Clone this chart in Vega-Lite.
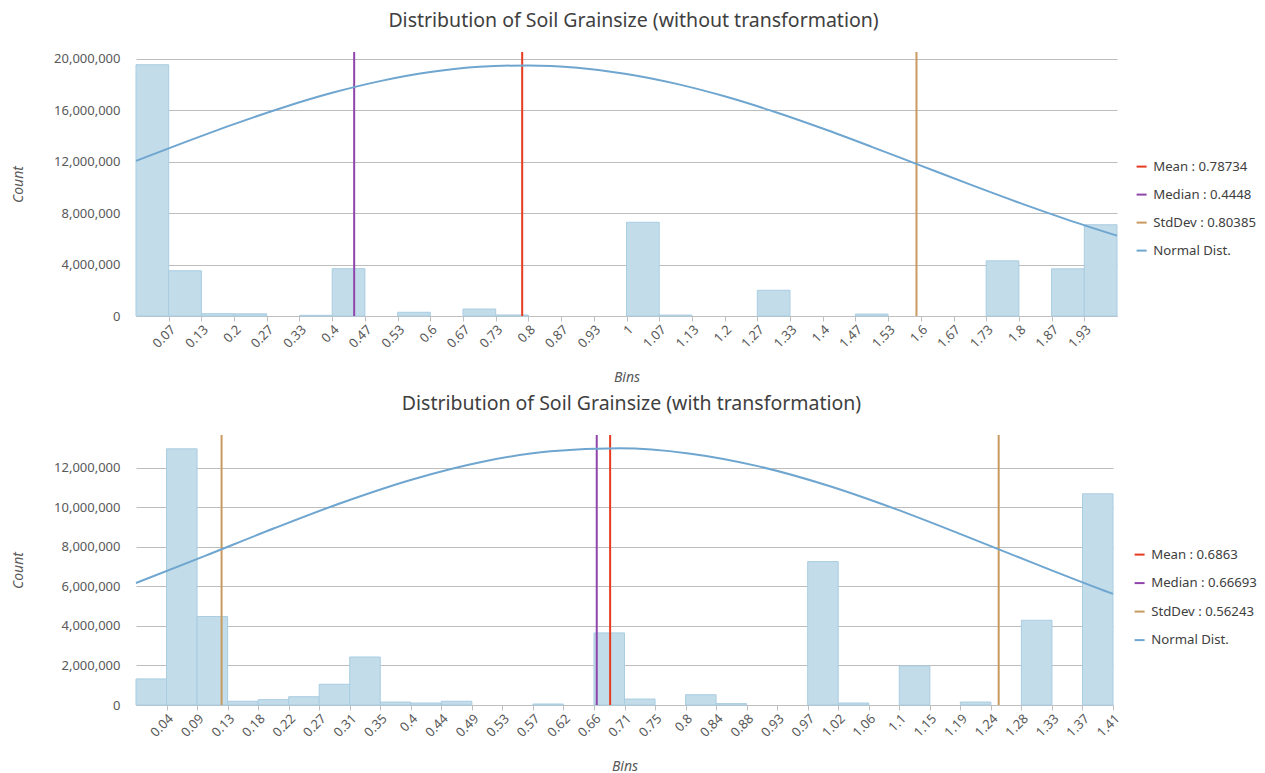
{
  "$schema": "https://vega.github.io/schema/vega-lite/v6.json",
  "background": "white",
  "padding": {"top": 10, "left": 11, "right": 5, "bottom": 0},
  "config": {
    "font": "Noto Sans",
    "view": {"stroke": null},
    "axis": {"labelColor": "#595959", "labelFontSize": 13, "titleColor": "#595959", "titleFontStyle": "italic", "titleFontWeight": "normal", "titleFontSize": 14},
    "axisX": {"labelOverlap": false, "tickCount": 60},
    "title": {"fontSize": 19.5, "fontWeight": "normal", "color": "#404040"},
    "legend": {"labelColor": "#404040", "labelFontSize": 13.2, "labelFont": "Noto Sans", "symbolType": "stroke", "symbolSize": 100, "symbolStrokeWidth": 2, "rowPadding": 14, "labelOffset": 5}
  },
  "datasets": {
    "bars_top": [
      {"bin_start": 0, "bin_end": 0.0666667, "count": 19550000},
      {"bin_start": 0.0666667, "bin_end": 0.1333333, "count": 3520000},
      {"bin_start": 0.1333333, "bin_end": 0.2, "count": 180000},
      {"bin_start": 0.2, "bin_end": 0.2666667, "count": 170000},
      {"bin_start": 0.3333333, "bin_end": 0.4, "count": 50000},
      {"bin_start": 0.4, "bin_end": 0.4666667, "count": 3680000},
      {"bin_start": 0.5333333, "bin_end": 0.6, "count": 290000},
      {"bin_start": 0.6666667, "bin_end": 0.7333333, "count": 540000},
      {"bin_start": 0.7333333, "bin_end": 0.8, "count": 80000},
      {"bin_start": 1, "bin_end": 1.0666667, "count": 7290000},
      {"bin_start": 1.0666667, "bin_end": 1.1333333, "count": 70000},
      {"bin_start": 1.2666667, "bin_end": 1.3333333, "count": 2000000},
      {"bin_start": 1.4666667, "bin_end": 1.5333333, "count": 150000},
      {"bin_start": 1.7333333, "bin_end": 1.8, "count": 4290000},
      {"bin_start": 1.8666667, "bin_end": 1.9333333, "count": 3670000},
      {"bin_start": 1.9333333, "bin_end": 2, "count": 7100000}
    ],
    "stats_top": [
      {"label": "Mean : 0.78734", "value": 0.78734},
      {"label": "Median : 0.4448", "value": 0.4448},
      {"label": "StdDev : 0.80385", "value": 1.59119}
    ],
    "curve_top": [
      {"x": 0, "density": 12071000}, {"x": 0.1, "density": 13529000}, {"x": 0.2, "density": 14932000},
      {"x": 0.3, "density": 16227000}, {"x": 0.4, "density": 17363000}, {"x": 0.5, "density": 18293000},
      {"x": 0.6, "density": 18978000}, {"x": 0.7, "density": 19385000}, {"x": 0.8, "density": 19498000},
      {"x": 0.9, "density": 19309000}, {"x": 1.0, "density": 18829000}, {"x": 1.1, "density": 18079000},
      {"x": 1.2, "density": 17093000}, {"x": 1.3, "density": 15912000}, {"x": 1.4, "density": 14585000},
      {"x": 1.5, "density": 13163000}, {"x": 1.6, "density": 11699000}, {"x": 1.7, "density": 10236000},
      {"x": 1.8, "density": 8819000}, {"x": 1.9, "density": 7482000}, {"x": 2.0, "density": 6250000}
    ],
    "bars_bottom": [
      {"bin_start": 0, "bin_end": 0.0441942, "count": 1320000},
      {"bin_start": 0.0441942, "bin_end": 0.0883883, "count": 12970000},
      {"bin_start": 0.0883883, "bin_end": 0.1325825, "count": 4480000},
      {"bin_start": 0.1325825, "bin_end": 0.1767767, "count": 190000},
      {"bin_start": 0.1767767, "bin_end": 0.2209709, "count": 270000},
      {"bin_start": 0.2209709, "bin_end": 0.265165, "count": 420000},
      {"bin_start": 0.265165, "bin_end": 0.3093592, "count": 1050000},
      {"bin_start": 0.3093592, "bin_end": 0.3535534, "count": 2430000},
      {"bin_start": 0.3535534, "bin_end": 0.3977476, "count": 150000},
      {"bin_start": 0.3977476, "bin_end": 0.4419417, "count": 100000},
      {"bin_start": 0.4419417, "bin_end": 0.4861359, "count": 190000},
      {"bin_start": 0.5745243, "bin_end": 0.6187184, "count": 50000},
      {"bin_start": 0.6629126, "bin_end": 0.7071068, "count": 3650000},
      {"bin_start": 0.7071068, "bin_end": 0.751301, "count": 300000},
      {"bin_start": 0.7954951, "bin_end": 0.8396893, "count": 520000},
      {"bin_start": 0.8396893, "bin_end": 0.8838835, "count": 70000},
      {"bin_start": 0.9722718, "bin_end": 1.016466, "count": 7260000},
      {"bin_start": 1.016466, "bin_end": 1.0606602, "count": 100000},
      {"bin_start": 1.1048543, "bin_end": 1.1490485, "count": 1980000},
      {"bin_start": 1.1932427, "bin_end": 1.2374369, "count": 150000},
      {"bin_start": 1.2816252, "bin_end": 1.3258252, "count": 4290000},
      {"bin_start": 1.3700194, "bin_end": 1.4142136, "count": 10690000}
    ],
    "stats_bottom": [
      {"label": "Mean : 0.6863", "value": 0.6863},
      {"label": "Median : 0.66693", "value": 0.66693},
      {"label": "StdDev : 0.56243", "value": 0.12387},
      {"label": "StdDev : 0.56243", "value": 1.24873}
    ],
    "curve_bottom": [
      {"x": 0, "density": 6175000}, {"x": 0.1, "density": 7551000}, {"x": 0.2, "density": 8946000},
      {"x": 0.3, "density": 10268000}, {"x": 0.4, "density": 11420000}, {"x": 0.5, "density": 12306000},
      {"x": 0.6, "density": 12848000}, {"x": 0.7, "density": 12996000}, {"x": 0.8, "density": 12737000},
      {"x": 0.9, "density": 12095000}, {"x": 1.0, "density": 11127000}, {"x": 1.1, "density": 9919000},
      {"x": 1.2, "density": 8566000}, {"x": 1.3, "density": 7168000}, {"x": 1.4, "density": 5811000},
      {"x": 1.4142136, "density": 5626000}
    ]
  },
  "spacing": 8,
  "resolve": {"scale": {"color": "independent", "x": "independent", "y": "independent"}, "legend": {"color": "independent"}},
  "vconcat": [
    {
      "width": 981,
      "height": 264,
      "title": {"text": "Distribution of Soil Grainsize (without transformation)", "dx": 7, "offset": 20},
      "layer": [
        {
          "data": {"name": "bars_top"},
          "mark": {"type": "rect", "fill": "#c2dcea", "stroke": "#a9cde1", "strokeWidth": 1},
          "encoding": {
            "x": {"field": "bin_start", "type": "quantitative", "scale": {"domain": [0, 2], "nice": false, "zero": false},
              "axis": {"title": "Bins", "values": [0.0666667, 0.1333333, 0.2, 0.2666667, 0.3333333, 0.4, 0.4666667, 0.5333333, 0.6, 0.6666667, 0.7333333, 0.8, 0.8666667, 0.9333333, 1, 1.0666667, 1.1333333, 1.2, 1.2666667, 1.3333333, 1.4, 1.4666667, 1.5333333, 1.6, 1.6666667, 1.7333333, 1.8, 1.8666667, 1.9333333],
                "tickCount": 60, "format": ".2~f", "labelAngle": -45, "labelOverlap": false, "grid": false, "tickSize": 5, "tickColor": "#bfbfbf", "domainColor": "#bfbfbf", "labelPadding": 2, "titlePadding": 20}},
            "x2": {"field": "bin_end"},
            "y": {"field": "count", "type": "quantitative", "scale": {"domain": [0, 20540000], "nice": false},
              "axis": {"title": "Count", "values": [0, 4000000, 8000000, 12000000, 16000000, 20000000], "format": ",d", "grid": true, "gridColor": "#bdbdbd", "domain": false, "ticks": false, "labelPadding": 16, "titlePadding": 28}},
            "y2": {"datum": 0}
          }
        },
        {
          "data": {"name": "stats_top"},
          "mark": {"type": "rule", "strokeWidth": 2},
          "encoding": {
            "x": {"field": "value", "type": "quantitative", "axis": {"labelOverlap": false, "tickCount": 60, "labelAngle": -45}},
            "color": {"field": "label", "type": "nominal",
              "scale": {"domain": ["Mean : 0.78734", "Median : 0.4448", "StdDev : 0.80385", "Normal Dist."], "range": ["#e63b1f", "#9045ab", "#c99a60", "#6fa6d0"]},
              "legend": {"title": null, "orient": "none", "legendX": 999, "legendY": 108, "labelFontSize": 13.2, "rowPadding": 14}}
          }
        },
        {
          "data": {"name": "curve_top"},
          "mark": {"type": "line", "strokeWidth": 2, "interpolate": "monotone"},
          "encoding": {
            "x": {"field": "x", "type": "quantitative", "axis": {"labelOverlap": false, "tickCount": 60, "labelAngle": -45}},
            "y": {"field": "density", "type": "quantitative"},
            "color": {"datum": "Normal Dist."}
          }
        }
      ]
    },
    {
      "width": 977,
      "height": 270,
      "title": {"text": "Distribution of Soil Grainsize (with transformation)", "dx": 7, "offset": 20},
      "layer": [
        {
          "data": {"name": "bars_bottom"},
          "mark": {"type": "rect", "fill": "#c2dcea", "stroke": "#a9cde1", "strokeWidth": 1},
          "encoding": {
            "x": {"field": "bin_start", "type": "quantitative", "scale": {"domain": [0, 1.4142136], "nice": false, "zero": false},
              "axis": {"title": "Bins", "values": [0.0441942, 0.0883883, 0.1325825, 0.1767767, 0.2209709, 0.265165, 0.3093592, 0.3535534, 0.3977476, 0.4419417, 0.4861359, 0.5303301, 0.5745243, 0.6187184, 0.6629126, 0.7071068, 0.751301, 0.7954951, 0.8396893, 0.8838835, 0.9280777, 0.9722718, 1.016466, 1.0606602, 1.1048543, 1.1490485, 1.1932427, 1.2374369, 1.281631, 1.3258252, 1.3700194, 1.4142136],
                "tickCount": 60, "format": ".2~f", "labelAngle": -45, "labelOverlap": false, "grid": false, "tickSize": 5, "tickColor": "#bfbfbf", "domainColor": "#bfbfbf", "labelPadding": 2, "titlePadding": 20}},
            "x2": {"field": "bin_end"},
            "y": {"field": "count", "type": "quantitative", "scale": {"domain": [0, 13670000], "nice": false},
              "axis": {"title": "Count", "values": [0, 2000000, 4000000, 6000000, 8000000, 10000000, 12000000], "format": ",d", "grid": true, "gridColor": "#bdbdbd", "domain": false, "ticks": false, "labelPadding": 16, "titlePadding": 28}},
            "y2": {"datum": 0}
          }
        },
        {
          "data": {"name": "stats_bottom"},
          "mark": {"type": "rule", "strokeWidth": 2},
          "encoding": {
            "x": {"field": "value", "type": "quantitative", "axis": {"labelOverlap": false, "tickCount": 60, "labelAngle": -45}},
            "color": {"field": "label", "type": "nominal",
              "scale": {"domain": ["Mean : 0.6863", "Median : 0.66693", "StdDev : 0.56243", "Normal Dist."], "range": ["#e63b1f", "#9045ab", "#c99a60", "#6fa6d0"]},
              "legend": {"title": null, "orient": "none", "legendX": 997, "legendY": 113, "labelFontSize": 13.2, "rowPadding": 14.5}}
          }
        },
        {
          "data": {"name": "curve_bottom"},
          "mark": {"type": "line", "strokeWidth": 2, "interpolate": "monotone"},
          "encoding": {
            "x": {"field": "x", "type": "quantitative", "axis": {"labelOverlap": false, "tickCount": 60, "labelAngle": -45}},
            "y": {"field": "density", "type": "quantitative"},
            "color": {"datum": "Normal Dist."}
          }
        }
      ]
    }
  ]
}
